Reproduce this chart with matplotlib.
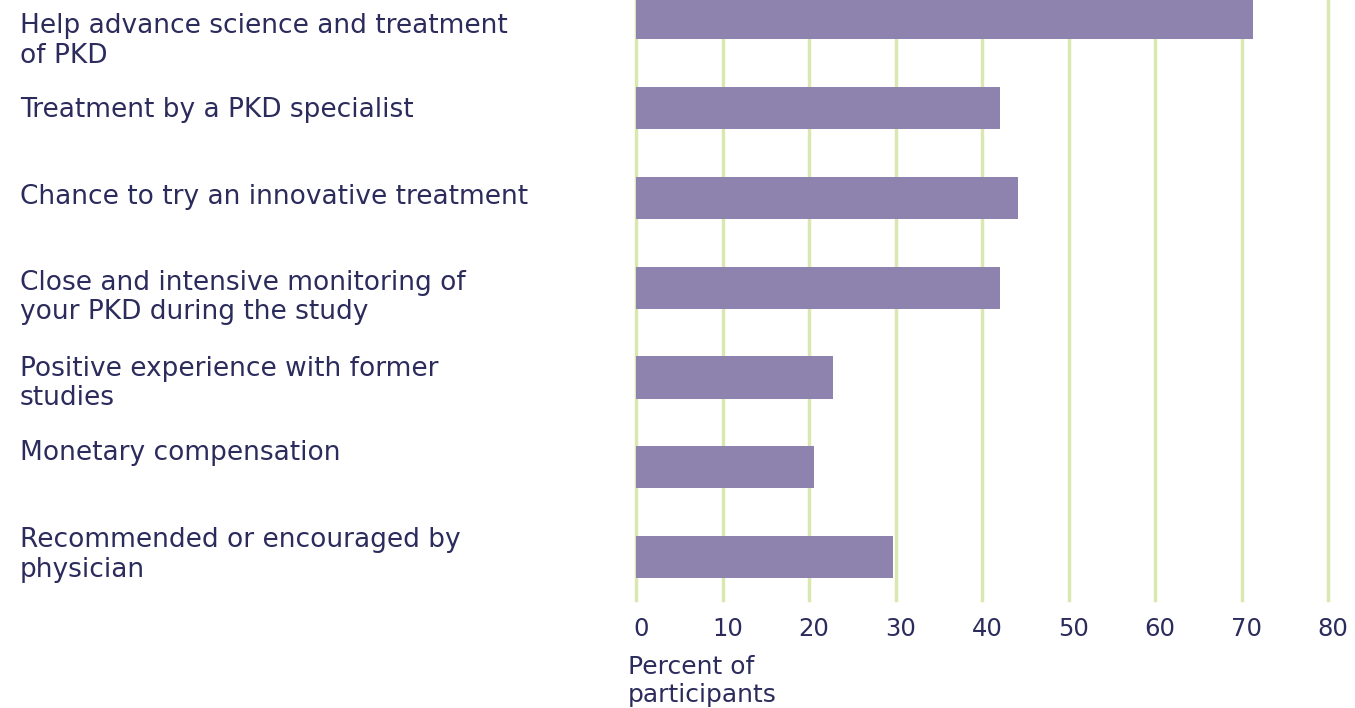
import matplotlib.pyplot as plt
import matplotlib.transforms as mtransforms

categories = [
    "Help advance science and treatment\nof PKD",
    "Treatment by a PKD specialist",
    "Chance to try an innovative treatment",
    "Close and intensive monitoring of\nyour PKD during the study",
    "Positive experience with former\nstudies",
    "Monetary compensation",
    "Recommended or encouraged by\nphysician",
]
percent = [71.3, 42.1, 44.2, 42.1, 22.8, 20.6, 29.7]
x_ticks = [0, 10, 20, 30, 40, 50, 60, 70, 80]

# label drift from bar centre in the original, in pixels (positive = down)
label_shift_px = [23, 2, -1, 10, 6, -14, -2]

text_col = "#2b2b5c"
bar_col = "#8e82ae"
grid_col = "#d9e8b0"

plt.rcParams["font.family"] = ["DejaVu Sans"]

fig = plt.figure(figsize=(13.55, 7.08), dpi=100)
ax = fig.add_axes([636 / 1355, 108 / 708, 692 / 1355, 600 / 708])

ypos = list(range(len(categories)))
for t in x_ticks:
    ax.axvline(t, color=grid_col, lw=2.5, zorder=0, clip_on=False)
ax.barh(ypos, percent, height=0.47, color=bar_col, zorder=2)

ax.set_xlim(0, 80)
ax.set_ylim(6.479, -0.203)
ax.set_xticks(x_ticks)
ax.set_xticklabels([str(t) for t in x_ticks])
ax.set_yticks([])
ax.tick_params(axis="x", length=0, pad=12, labelsize=17.5, labelcolor=text_col)
shift = mtransforms.ScaledTranslation(5 / 100, 0, fig.dpi_scale_trans)
for lab in ax.get_xticklabels():
    lab.set_transform(lab.get_transform() + shift)
for s in ax.spines.values():
    s.set_visible(False)

trans = mtransforms.blended_transform_factory(fig.transFigure, ax.transData)
for y, lab, dy in zip(ypos, categories, label_shift_px):
    off = mtransforms.ScaledTranslation(0, -dy / 100, fig.dpi_scale_trans)
    ax.text(20 / 1355, y, lab, transform=trans + off, ha="left", va="center",
            fontsize=19, color=text_col, linespacing=1.18, clip_on=False)

fig.text(628 / 1355, 1 - 681 / 708, "Percent of\nparticipants", ha="left",
         va="center", fontsize=18, color=text_col, linespacing=1.18)

fig.savefig("out.png", dpi=100)
